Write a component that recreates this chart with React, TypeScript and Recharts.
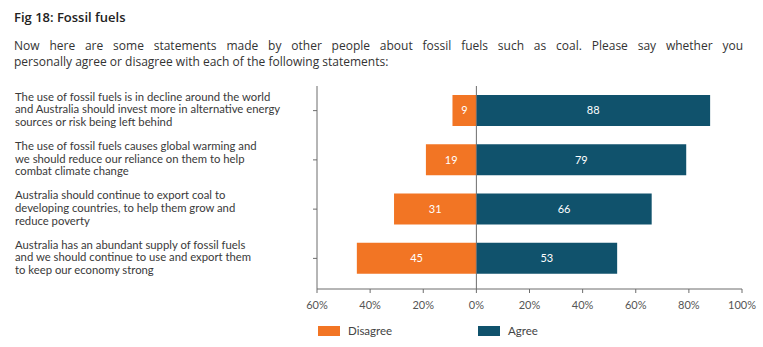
import React from "react";
import {
  BarChart,
  Bar,
  XAxis,
  YAxis,
  ReferenceLine,
  LabelList,
} from "recharts";

const categories = [
  "The use of fossil fuels is in decline around the world\nand Australia should invest more in alternative energy\nsources or risk being left behind",
  "The use of fossil fuels causes global warming and\nwe should reduce our reliance on them to help\ncombat climate change",
  "Australia should continue to export coal to\ndeveloping countries, to help them grow and\nreduce poverty",
  "Australia has an abundant supply of fossil fuels\nand we should continue to use and export them\nto keep our economy strong",
];
const disagree = [9, 19, 31, 45];
const agree = [88, 79, 66, 53];
const xTicks = [-60, -40, -20, 0, 20, 40, 60, 80, 100];
const seriesNames = ["Disagree", "Agree"];
const seriesColors = ["#F27524", "#10526C"];

const data = categories.map((name, i) => ({
  name,
  disagree: -disagree[i],
  agree: agree[i],
}));

const labelFont = "Lato, 'Noto Sans', sans-serif";

const CategoryTick = (props: any) => {
  const { y, payload } = props;
  const lines = String(payload.value).split("\n");
  const lh = 12.6;
  const start = y - ((lines.length - 1) * lh) / 2;
  return (
    <g>
      {lines.map((l: string, i: number) => (
        <text
          key={i}
          x={15}
          y={start + i * lh}
          dominantBaseline="middle"
          textAnchor="start"
          fill="#3a3a3a"
          fontSize={11.3}
          fontFamily={labelFont}
        >
          {l}
        </text>
      ))}
    </g>
  );
};

const App = () => {
  return (
    <div
      style={{
        position: "absolute",
        left: 0,
        top: 0,
        width: 763,
        height: 347,
        background: "#fff",
        overflow: "hidden",
      }}
    >
      <div
        style={{
          position: "absolute",
          left: 14,
          top: 8,
          fontFamily: "'Open Sans', sans-serif",
          fontWeight: 600,
          fontSize: 13,
          color: "#222",
        }}
      >
        Fig 18: Fossil fuels
      </div>
      <div
        style={{
          position: "absolute",
          left: 14,
          top: 38,
          width: 729,
          fontFamily: "'Open Sans', sans-serif",
          fontSize: 12,
          lineHeight: "16px",
          color: "#333",
        }}
      >
        <div style={{ textAlign: "justify", textAlignLast: "justify" }}>
          Now here are some statements made by other people about fossil fuels such as coal. Please say whether you
        </div>
        <div>personally agree or disagree with each of the following statements:</div>
      </div>
      <div style={{ position: "absolute", left: 0, top: 0 }}>
        <BarChart
          width={763}
          height={347}
          data={data}
          layout="vertical"
          stackOffset="sign"
          barSize={31}
          margin={{ top: 86, right: 21, left: 0, bottom: 28 }}
        >
          <XAxis
            type="number"
            domain={[-60, 100]}
            ticks={xTicks}
            tickFormatter={(v: number) => `${Math.abs(v)}%`}
            stroke="#6d6d6d"
            tickSize={4}
            tickMargin={8}
            height={30}
            tick={{ fill: "#555", fontSize: 11, fontFamily: labelFont }}
            interval={0}
          />
          <YAxis
            type="category"
            dataKey="name"
            width={317}
            stroke="#6d6d6d"
            tickSize={4}
            tick={<CategoryTick />}
            padding={{ top: 0, bottom: 6 }}
            interval={0}
          />
          <ReferenceLine x={0} stroke="#6d6d6d" />
          <Bar dataKey="disagree" stackId="a" fill={seriesColors[0]} isAnimationActive={false}>
            <LabelList
              dataKey="disagree"
              position="center"
              formatter={(v: any) => Math.abs(Number(v))}
              fill="#fff"
              fontSize={11}
              fontFamily={labelFont}
            />
          </Bar>
          <Bar dataKey="agree" stackId="a" fill={seriesColors[1]} isAnimationActive={false}>
            <LabelList
              dataKey="agree"
              position="center"
              fill="#fff"
              fontSize={11}
              fontFamily={labelFont}
            />
          </Bar>
        </BarChart>
      </div>
      {seriesNames.map((n, i) => (
        <div
          key={n}
          style={{
            position: "absolute",
            left: i === 0 ? 318 : 478,
            top: 324,
            display: "flex",
            alignItems: "center",
            fontFamily: labelFont,
            fontSize: 11.5,
            color: "#444",
          }}
        >
          <span
            style={{
              display: "inline-block",
              width: 22,
              height: 10,
              background: seriesColors[i],
              marginRight: 8,
            }}
          />
          {n}
        </div>
      ))}
    </div>
  );
};

export default App;
